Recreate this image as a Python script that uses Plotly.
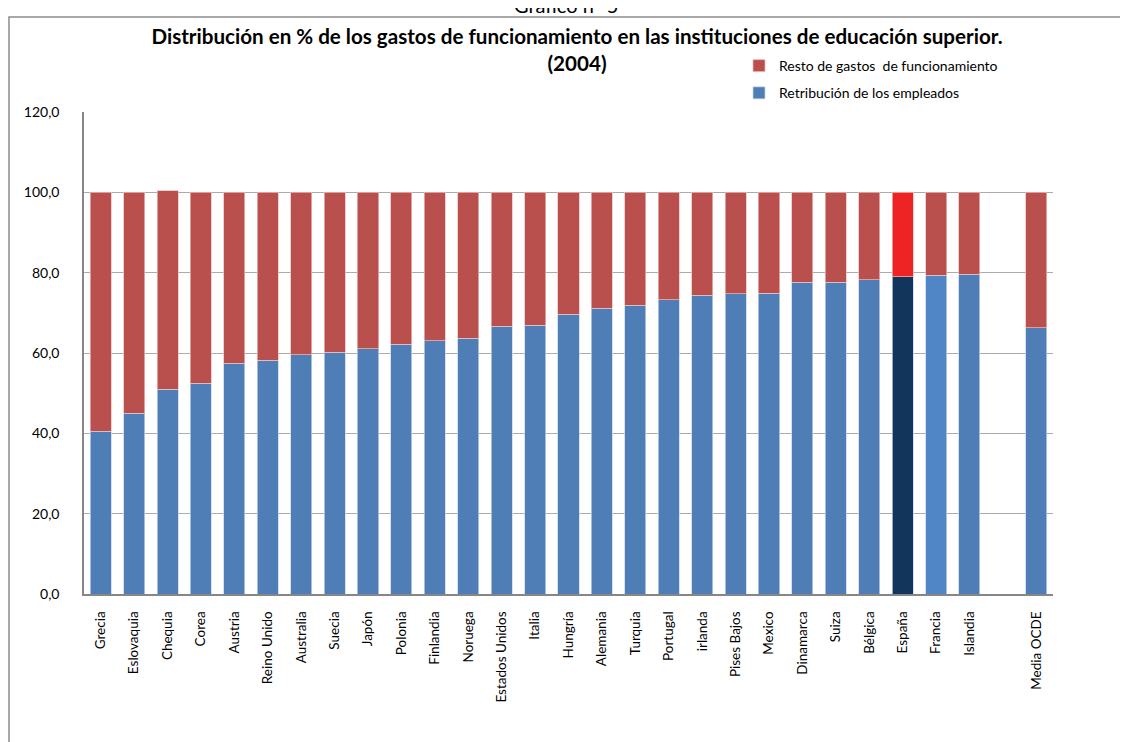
import plotly.graph_objects as go

# ---- data ----
categories = ["Grecia", "Eslovaquia", "Chequia", "Corea", "Austria", "Reino Unido",
              "Australia", "Suecia", "Japón", "Polonia", "Finlandia", "Noruega",
              "Estados Unidos", "Italia", "Hungría", "Alemania", "Turquia", "Portugal",
              "irlanda", "Pises Bajos", "Mexico", "Dinamarca", "Suiza", "Bélgica",
              "España", "Francia", "Islandia", " ", "Media OCDE"]

retribucion = [40.5, 45.0, 51.0, 52.5, 57.4, 58.2, 59.6, 60.2, 61.1, 62.2, 63.1, 63.7,
               66.6, 66.9, 69.7, 71.2, 71.9, 73.2, 74.4, 74.7, 74.9, 77.6, 77.6, 78.2,
               79.0, 79.3, 79.6, None, 66.3]

resto = [59.5, 55.0, 49.4, 47.5, 42.6, 41.8, 40.4, 39.8, 38.9, 37.8, 36.9, 36.3,
         33.4, 33.1, 30.3, 28.8, 28.1, 26.8, 25.6, 25.3, 25.1, 22.4, 22.4, 21.8,
         21.0, 20.7, 20.4, None, 33.7]

y_ticks = [0, 20, 40, 60, 80, 100, 120]

# ---- styles ----
BLUE = "#4F7DB5"
RED = "#BA504E"
blue_colors = [BLUE] * len(categories)
red_colors = [RED] * len(categories)
blue_colors[categories.index("España")] = "#12355B"
red_colors[categories.index("España")] = "#EE2424"
blue_colors[categories.index("Francia")] = "#5086C6"

FONT = "Lato"

# pixel geometry (page coordinates; the page body has an 8px margin)
OFF = 8
W, H = 1128 - OFF, 742 - OFF
L, R, T, B = 84 - OFF, 1053 - OFF, 112 - OFF, 594.3 - OFF


def px_x(x):
    return (x - OFF - L) / (R - L)


def px_y(y):
    return (B - (y - OFF)) / (B - T)


fig = go.Figure()
fig.add_trace(go.Bar(
    x=categories, y=retribucion, name="Retribución de los empleados",
    marker=dict(color=blue_colors, line=dict(color="rgba(200,215,235,0.9)", width=0.8)),
    legendgroup="b", legendrank=2,
))
fig.add_trace(go.Bar(
    x=categories, y=resto, name="Resto de gastos  de funcionamiento",
    marker=dict(color=red_colors, line=dict(color="rgba(235,190,190,0.9)", width=0.8)),
    legendgroup="a", legendrank=1,
))

fig.update_layout(
    width=W, height=H,
    barmode="stack", bargap=0.37,
    plot_bgcolor="white", paper_bgcolor="white",
    margin=dict(l=L, r=W - R, t=T, b=H - B, pad=0),
    font=dict(family=FONT, color="black", size=12),
    separators=",.",
    title=dict(
        text="<b>Distribución en % de los gastos de funcionamiento en las instituciones de educación superior.<br>(2004)</b>",
        xref="container", yref="container", x=(577 - OFF) / W, y=1 - (44 - OFF) / H,
        xanchor="center", yanchor="middle",
        font=dict(family=FONT, size=20.6, color="black"),
    ),
    legend=dict(
        x=px_x(739), y=px_y(50), xanchor="left", yanchor="top",
        traceorder="grouped", tracegroupgap=6,
        font=dict(family=FONT, size=14, color="black"),
        bgcolor="rgba(0,0,0,0)",
    ),
    xaxis=dict(
        type="category", categoryorder="array", categoryarray=categories,
        tickangle=-90, tickfont=dict(family=FONT, size=13.5),
        showline=True, linecolor="#868686", linewidth=2,
        ticks="", showgrid=False, ticklabelstandoff=10,
        range=[-0.5, len(categories) - 0.5],
    ),
    yaxis=dict(
        range=[0, 120], tickvals=y_ticks, tickformat=".1f",
        tickfont=dict(family=FONT, size=14),
        showgrid=True, gridcolor="#ABABAB", gridwidth=1.3,
        showline=True, linecolor="#868686", linewidth=1.5,
        zeroline=False, ticks="", ticklabelstandoff=20,
    ),
    shapes=[dict(
        type="rect", xref="paper", yref="paper",
        x0=px_x(9), x1=px_x(1140), y0=px_y(760), y1=px_y(17),
        line=dict(color="#8C8C8C", width=1.5), fillcolor="rgba(0,0,0,0)", layer="below",
    )],
    annotations=[dict(
        text="Gráfico nº 5", xref="paper", yref="paper",
        x=px_x(566), y=px_y(19), xanchor="center", yanchor="bottom",
        showarrow=False, font=dict(family=FONT, size=20, color="black"),
    )],
)

fig.write_html("out.html")
